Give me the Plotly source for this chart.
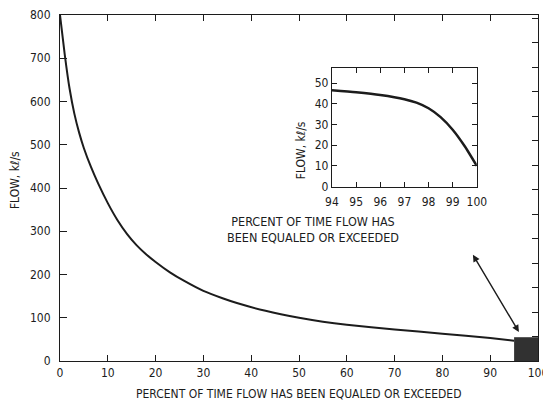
import plotly.graph_objects as go

# ---- data ----
main_pct = [0, 1, 2, 3, 4, 5, 6.5, 8, 10, 12, 14, 16, 18, 20, 23, 26, 30, 34,
            37, 43, 50, 55, 60, 70, 80, 90, 95]
main_flow = [800, 708, 630, 572, 528, 492, 448, 410, 365, 326, 294, 268, 247,
             229, 205, 185, 162, 145, 134, 116, 100, 91, 84, 73, 63, 53, 47]

inset_pct = [94, 95, 96, 97, 97.5, 98, 98.5, 99, 99.5, 100]
inset_flow = [46.6, 45.6, 44.3, 42.3, 40.6, 37.9, 33.6, 27.5, 19.5, 10]

zoom_pct = [95, 100]          # magnified region on the main chart
zoom_flow_top = 55

x_ticks_main = [0, 10, 20, 30, 40, 50, 60, 70, 80, 90, 100]
y_ticks_main = [0, 100, 200, 300, 400, 500, 600, 700, 800]
x_ticks_inset = [94, 95, 96, 97, 98, 99, 100]
y_ticks_inset = [0, 10, 20, 30, 40, 50]
CFS_PER_KLS = 35.3147

FONT = "Liberation Sans Narrow, DejaVu Sans Condensed, Arial Narrow, sans-serif"
INK = "#1c1c1c"

fig = go.Figure()

fig.add_trace(go.Scatter(x=main_pct, y=main_flow, mode="lines",
                         line=dict(color=INK, width=2, shape="spline", smoothing=0.6),
                         xaxis="x", yaxis="y", showlegend=False, hoverinfo="skip"))
# invisible trace to carry the right-hand (cfs) tick axis
fig.add_trace(go.Scatter(x=[None], y=[None], xaxis="x", yaxis="y2",
                         showlegend=False, hoverinfo="skip"))
fig.add_trace(go.Scatter(x=inset_pct, y=inset_flow, mode="lines",
                         line=dict(color=INK, width=2.5, shape="spline", smoothing=0.6),
                         xaxis="x2", yaxis="y3", showlegend=False, hoverinfo="skip"))

fig.add_shape(type="rect", xref="x", yref="y",
              x0=zoom_pct[0], x1=zoom_pct[1], y0=0, y1=zoom_flow_top,
              fillcolor="#202020", line=dict(width=0), opacity=0.92)

axis_common = dict(showgrid=False, zeroline=False, showline=True, linecolor=INK,
                   linewidth=1.2, ticks="inside", tickcolor=INK, tickwidth=1.2,
                   automargin=False,
                   tickfont=dict(family=FONT, size=12, color=INK))

fig.update_layout(
    width=543, height=402,
    margin=dict(l=60, r=5, t=15, b=41),
    paper_bgcolor="white", plot_bgcolor="white",
    xaxis=dict(axis_common, domain=[0, 1], range=[0, 100], tickvals=x_ticks_main,
               ticklen=6, mirror="ticks", ticklabeloverflow="allow"),
    yaxis=dict(axis_common, domain=[0, 1], range=[0, 800], tickvals=y_ticks_main,
               ticklen=7, mirror=True, ticklabelstandoff=6),
    yaxis2=dict(axis_common, overlaying="y", side="right",
                range=[0, 800 * CFS_PER_KLS], dtick=2000, ticklen=6,
                showticklabels=False, showline=False),
    xaxis2=dict(axis_common, domain=[0.569, 0.872], range=[94, 100],
                tickvals=x_ticks_inset, ticklen=5, mirror="ticks", anchor="y3",
                ticklabelstandoff=4),
    yaxis3=dict(axis_common, domain=[0.504, 0.847], range=[0, 57.4],
                tickvals=y_ticks_inset, ticklen=5, mirror="ticks", anchor="x2"),
)

ann_font = dict(family=FONT, size=12, color=INK)
fig.add_annotation(text="PERCENT OF TIME FLOW HAS BEEN EQUALED OR EXCEEDED",
                   xref="paper", yref="paper", x=0.498, y=-0.095,
                   showarrow=False, font=ann_font, yanchor="middle")
fig.add_annotation(text="FLOW, kℓ/s", xref="paper", yref="paper",
                   x=-0.094, y=0.523, textangle=-90, showarrow=False,
                   font=ann_font, xanchor="center", yanchor="middle")
fig.add_annotation(text="FLOW, kℓ/s", xref="paper", yref="paper",
                   x=0.505, y=0.610, textangle=-90, showarrow=False,
                   font=ann_font, xanchor="center", yanchor="middle")
fig.add_annotation(text="PERCENT OF TIME FLOW HAS<br>BEEN EQUALED OR EXCEEDED",
                   xref="paper", yref="paper", x=0.713, y=0.380,
                   showarrow=False, font=dict(ann_font, size=12.5), yanchor="middle",
                   align="center")
# double-headed pointer from the inset caption to the magnified region
fig.add_annotation(x=96, y=67, ax=86.2, ay=249, xref="x", yref="y",
                   axref="x", ayref="y", text="", showarrow=True,
                   arrowhead=2, startarrowhead=2, arrowside="end+start",
                   arrowwidth=1.4, arrowcolor=INK, arrowsize=1, startarrowsize=1)

fig.write_html("out.html", config={"displayModeBar": False},
               post_script="document.body.style.margin='0';document.body.style.overflow='hidden';")
